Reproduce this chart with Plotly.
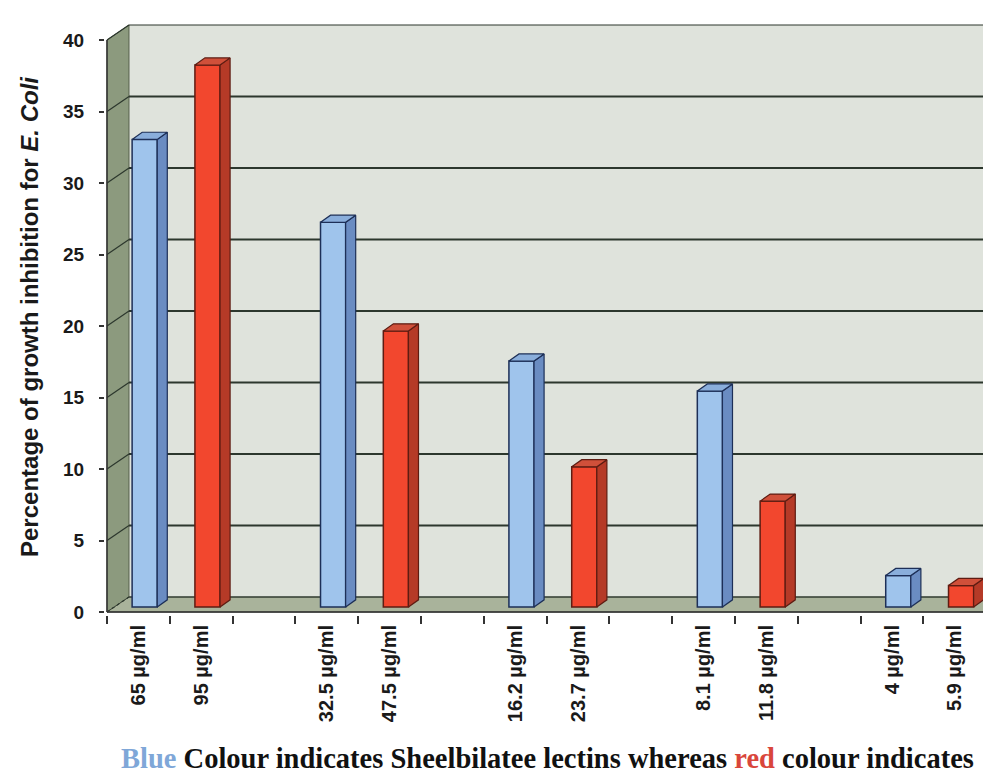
import plotly.graph_objects as go

# ---------------- data ----------------
categories = ["65 µg/ml", "95 µg/ml", "32.5 µg/ml", "47.5 µg/ml", "16.2 µg/ml",
              "23.7 µg/ml", "8.1 µg/ml", "11.8 µg/ml", "4 µg/ml", "5.9 µg/ml"]
blue_values = [32.7, 26.9, 17.2, 15.1, 2.2]   # Sheelbilatee lectins
red_values = [37.9, 19.3, 9.8, 7.4, 1.5]      # second lectin
y_ticks = [0, 5, 10, 15, 20, 25, 30, 35, 40]

# ---------------- geometry (pseudo 3D, Excel style) ----------------
W, H = 991, 775
PX0, S = 99.0, 62.8      # pixel of x=-0.5, pixels per slot
PY0, K = 604.0, 14.3     # pixel of y=0, pixels per unit
L, R, T, B = 97.0, 991.0, 13.0, 607.0
xmin = -0.5 - (PX0 - L) / S
xmax = -0.5 + (R - PX0) / S
ymin = -(B - PY0) / K
ymax = (PY0 - T) / K

NSLOT = 14
WX, WY = 0.35, 1.05          # depth of the walls (slots, units)
BW, BO, BB = 0.40, 0.10, 0.35  # bar width, x offset, base
BDX, BDY = 0.16, 0.50        # bar depth

WALL = "#dfe3dc"
SIDE = "#8c9a7e"
FLOOR = "#a9b39b"
GRID = "#2c372d"

blue_f, blue_s, blue_t, blue_o = "#9fc4ec", "#6a8cc2", "#8aaedb", "#1d2f57"
red_f, red_s, red_t, red_o = "#f2472e", "#b53a27", "#d0503a", "#5e1c12"

shapes = []
# back wall
shapes.append(dict(type="rect", xref="x", yref="y", x0=-0.5 + WX, y0=WY, x1=xmax + 1,
                   y1=40 + WY, fillcolor=WALL, line=dict(width=0), layer="below"))
# left side wall
shapes.append(dict(type="path", xref="x", yref="y",
                   path=f"M {-0.5},0 L {-0.5 + WX},{WY} L {-0.5 + WX},{40 + WY} L {-0.5},40 Z",
                   fillcolor=SIDE, line=dict(color="#56604c", width=1), layer="below"))
# floor
shapes.append(dict(type="path", xref="x", yref="y",
                   path=f"M {-0.5},0 L {NSLOT - 0.5},0 L {NSLOT - 0.5 + WX},{WY} L {xmax + 1},{WY} L {-0.5 + WX},{WY} Z",
                   fillcolor=FLOOR, line=dict(color="#3a4436", width=1), layer="below"))
# gridlines on the back wall + diagonals on the side wall
for v in y_ticks:
    shapes.append(dict(type="line", xref="x", yref="y", x0=-0.5 + WX, y0=v + WY,
                       x1=xmax + 1, y1=v + WY,
                       line=dict(color=GRID, width=1.8 if v not in (0, 40) else 1.2),
                       layer="below"))
    shapes.append(dict(type="line", xref="x", yref="y", x0=-0.5, y0=v,
                       x1=-0.5 + WX, y1=v + WY,
                       line=dict(color=GRID, width=1.2, dash="dot" if v == 0 else "solid"),
                       layer="below"))
# front axes lines
shapes.append(dict(type="line", xref="x", yref="y", x0=-0.5, y0=0, x1=-0.5, y1=40,
                   line=dict(color="#333333", width=1.5), layer="above"))
shapes.append(dict(type="line", xref="x", yref="y", x0=-0.5, y0=0, x1=NSLOT - 0.5, y1=0,
                   line=dict(color="#333333", width=1.5), layer="above"))

fig = go.Figure()

# bar slot positions
xpos, vals, fcol, scol, tcol, ocol = [], [], [], [], [], []
for g in range(len(blue_values)):
    xpos += [g * 3 + BO, g * 3 + 1 + BO]
    vals += [blue_values[g], red_values[g]]
    fcol += [blue_f, red_f]
    scol += [blue_s, red_s]
    tcol += [blue_t, red_t]
    ocol += [blue_o, red_o]

# front faces
fig.add_trace(go.Bar(x=xpos, y=vals, base=[BB] * len(vals), width=BW,
                     marker=dict(color=fcol, line=dict(color=ocol, width=1.5)),
                     showlegend=False, hoverinfo="skip"))

# side and top faces
for xc, v, sc, tc, oc in zip(xpos, vals, scol, tcol, ocol):
    x0, x1 = xc - BW / 2, xc + BW / 2
    top = BB + v
    fig.add_trace(go.Scatter(x=[x1, x1 + BDX, x1 + BDX, x1, x1],
                             y=[BB, BB + BDY, top + BDY, top, BB],
                             fill="toself", fillcolor=sc, mode="lines",
                             line=dict(color=oc, width=1.2), showlegend=False, hoverinfo="skip"))
    fig.add_trace(go.Scatter(x=[x0, x0 + BDX, x1 + BDX, x1, x0],
                             y=[top, top + BDY, top + BDY, top, top],
                             fill="toself", fillcolor=tc, mode="lines",
                             line=dict(color=oc, width=1.2), showlegend=False, hoverinfo="skip"))

label_pos = [g * 3 + k for g in range(len(blue_values)) for k in (0, 1)]

fig.update_layout(
    width=W, height=H, template="none",
    paper_bgcolor="white", plot_bgcolor="white",
    margin=dict(l=L, r=W - R, t=T, b=H - B, pad=0),
    shapes=shapes, showlegend=False,
    font=dict(family="Liberation Sans", color="#222222"),
    xaxis=dict(range=[xmin, xmax], tickmode="array", tickvals=label_pos, ticktext=categories,
               tickangle=-90, ticks="", showgrid=False, zeroline=False, showline=False,
               tickfont=dict(family="Liberation Sans", size=20, weight="bold", color="#1a1a1a"),
               ticklabelstandoff=5, automargin=False,
               minor=dict(tickmode="array", tickvals=[i - 0.5 for i in range(NSLOT + 1)],
                          ticks="outside", ticklen=8, tickcolor="#333333", tickwidth=1.5,
                          showgrid=False)),
    yaxis=dict(range=[ymin, ymax], tickmode="array", tickvals=y_ticks,
               ticks="outside", ticklen=5, tickcolor="#333333", tickwidth=1.5,
               showgrid=False, zeroline=False, showline=False, automargin=False,
               ticklabelstandoff=11,
               tickfont=dict(family="Liberation Sans", size=19, weight="bold", color="#1a1a1a")),
    annotations=[
        dict(text="<b>Percentage of growth inhibition for <i>E. Coli</i></b>",
             xref="paper", yref="paper", x=(21 - L) / (R - L), y=(B - 309) / (B - T),
             showarrow=False, textangle=-90, xanchor="center", yanchor="middle",
             font=dict(family="Liberation Sans", size=24, color="#1a1a1a")),
        dict(text="<b><span style='color:#7fa7d8'>Blue</span> Colour indicates Sheelbilatee lectins whereas "
                  "<span style='color:#d9463b'>red</span> colour indicates</b>",
             xref="paper", yref="paper", x=(539 - L) / (R - L), y=(B - 750) / (B - T),
             showarrow=False, xanchor="center", yanchor="middle",
             font=dict(family="Liberation Serif", size=28.5, color="#111111")),
    ],
)

fig.write_html("out.html")
